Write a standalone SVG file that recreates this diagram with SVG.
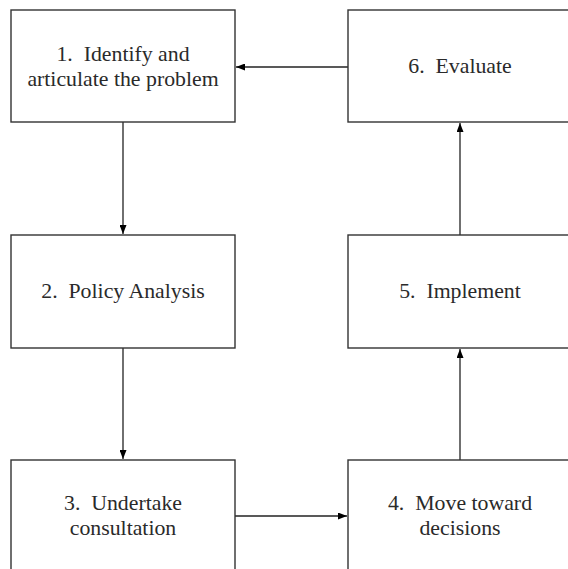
<svg xmlns="http://www.w3.org/2000/svg" width="568" height="569" viewBox="0 0 568 569">
<defs>
<marker id="ah" markerWidth="9" markerHeight="7" refX="9" refY="3.5" orient="auto" markerUnits="userSpaceOnUse">
<path d="M0,0 L9,3.5 L0,7 Z" fill="#000"/>
</marker>
<style>
.box{fill:#fff;stroke:#333;stroke-width:1.4}
.lbl{font-family:"Liberation Serif","Times New Roman",serif;font-size:21.8px;fill:#2a2a2a;text-anchor:middle;white-space:pre}
.con{stroke:#222;stroke-width:1.3;fill:none;marker-end:url(#ah)}
</style>
</defs>
<rect width="568" height="569" fill="#fff"/>
<g id="connectors">
<line class="con" x1="348" y1="67" x2="236" y2="67"/>
<line class="con" x1="123" y1="122" x2="123" y2="234"/>
<line class="con" x1="123" y1="348" x2="123" y2="459"/>
<line class="con" x1="235" y1="516" x2="347" y2="516"/>
<line class="con" x1="460" y1="460" x2="460" y2="349"/>
<line class="con" x1="460" y1="235" x2="460" y2="123"/>
</g>
<g id="n1">
<rect class="box" x="11" y="10" width="224" height="112"/>
<text class="lbl" x="123" y="61">1.  Identify and</text>
<text class="lbl" x="123" y="86">articulate the problem</text>
</g>
<g id="n6">
<rect class="box" x="348" y="10" width="224" height="112"/>
<text class="lbl" x="460" y="73">6.  Evaluate</text>
</g>
<g id="n2">
<rect class="box" x="11" y="235" width="224" height="113"/>
<text class="lbl" x="123" y="298">2.  Policy Analysis</text>
</g>
<g id="n5">
<rect class="box" x="348" y="235" width="224" height="113"/>
<text class="lbl" x="460" y="298">5.  Implement</text>
</g>
<g id="n3">
<rect class="box" x="11" y="460" width="224" height="120"/>
<text class="lbl" x="123" y="510">3.  Undertake</text>
<text class="lbl" x="123" y="535">consultation</text>
</g>
<g id="n4">
<rect class="box" x="348" y="460" width="224" height="120"/>
<text class="lbl" x="460" y="510">4.  Move toward</text>
<text class="lbl" x="460" y="535">decisions</text>
</g>
</svg>
